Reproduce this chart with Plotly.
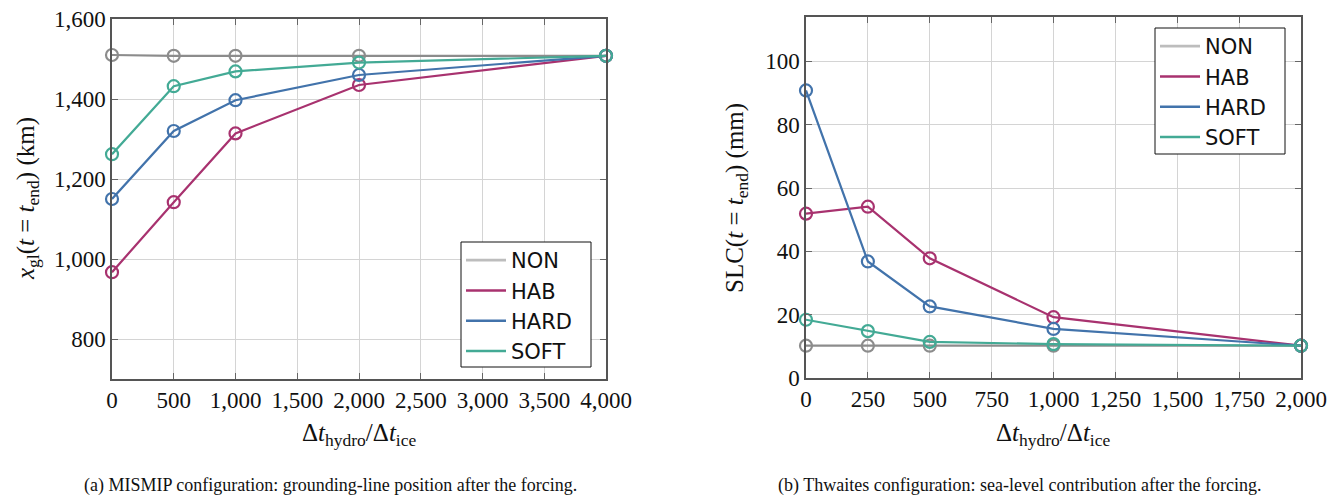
import plotly.graph_objects as go

# ---- data ----
series_names = ["NON", "HAB", "HARD", "SOFT"]
colors = ["#8c8c8c", "#a8326f", "#4273ab", "#43aa95"]
legend_colors = ["#bdbdbd", "#a8326f", "#4273ab", "#43aa95"]

x_mismip = [0, 500, 1000, 2000, 4000]
mismip_non = [1510, 1508, 1508, 1508, 1508]
mismip_hab = [967, 1142, 1314, 1435, 1508]
mismip_hard = [1150, 1320, 1397, 1460, 1508]
mismip_soft = [1262, 1432, 1469, 1491, 1508]

x_thwaites = [0, 250, 500, 1000, 2000]
thw_non = [10.2, 10.2, 10.2, 10.2, 10.2]
thw_hab = [51.9, 54.1, 37.8, 19.2, 10.2]
thw_hard = [90.8, 36.8, 22.6, 15.5, 10.2]
thw_soft = [18.4, 14.8, 11.4, 10.7, 10.2]

W, H = 1343, 497
def px(x): return x / W
def py(y): return 1 - y / H

fig = go.Figure()

panels = [
    ("x", "y", "legend", x_mismip, [mismip_non, mismip_hab, mismip_hard, mismip_soft]),
    ("x2", "y2", "legend2", x_thwaites, [thw_non, thw_hab, thw_hard, thw_soft]),
]
for xa, ya, lg, xs, series in panels:
    for name, col, ys in zip(series_names, colors, series):
        fig.add_trace(go.Scatter(x=xs, y=ys, name=name, mode="lines+markers", showlegend=False,
                                 line=dict(color=col, width=2.2),
                                 marker=dict(symbol="circle-open", size=12, line=dict(width=2.2, color=col)),
                                 xaxis=xa, yaxis=ya, cliponaxis=False))
    # legend entries (line only, as in the reference)
    for name, col in zip(series_names, legend_colors):
        fig.add_trace(go.Scatter(x=[None], y=[None], name=name, mode="lines",
                                 line=dict(color=col, width=2.6),
                                 xaxis=xa, yaxis=ya, legend=lg, showlegend=True))

tickfont = dict(family="Liberation Serif", size=23, color="#111")
axis_common = dict(showgrid=True, gridcolor="#d4d4d4", gridwidth=1, zeroline=False,
                   showline=True, linecolor="#555", linewidth=1.5, mirror="ticks",
                   ticks="inside", ticklen=6, tickcolor="#666", tickwidth=1,
                   tickfont=tickfont, tickformat=",", automargin=False)

legend_font = dict(family="DejaVu Sans", size=21, color="#111")
fig.update_layout(
    width=W, height=H, margin=dict(l=0, r=0, t=0, b=0, autoexpand=False),
    paper_bgcolor="white", plot_bgcolor="white",
    xaxis=dict(domain=[px(112), px(606)], range=[0, 4000], tick0=0, dtick=500, anchor="y", **axis_common),
    yaxis=dict(domain=[py(379), py(19)], range=[700, 1600], tick0=800, dtick=200, anchor="x", **axis_common),
    xaxis2=dict(domain=[px(806), px(1301)], range=[0, 2000], tick0=0, dtick=250, anchor="y2", **axis_common),
    yaxis2=dict(domain=[py(378), py(17)], range=[0, 114], tick0=0, dtick=20, anchor="x2", **axis_common),
    legend=dict(x=px(461), y=py(240), xanchor="left", yanchor="top",
                bgcolor="rgba(0,0,0,0)", borderwidth=0, itemwidth=40,
                font=legend_font, tracegroupgap=0),
    legend2=dict(x=px(1155), y=py(26), xanchor="left", yanchor="top",
                 bgcolor="rgba(0,0,0,0)", borderwidth=0, itemwidth=40,
                 font=legend_font, tracegroupgap=0),
    showlegend=True,
)

# legend frames
box = dict(type="rect", xref="paper", yref="paper", layer="above",
           line=dict(color="#111", width=1), fillcolor="white")
fig.add_shape(x0=px(461), x1=px(591), y0=py(367), y1=py(242), **box)
fig.add_shape(x0=px(1155), x1=px(1285), y0=py(154), y1=py(28), **box)

serif = "Liberation Serif"
ann = [
    dict(text="Δ<i>t</i><sub>hydro</sub>/Δ<i>t</i><sub>ice</sub>", x=px(359), y=py(434),
         font=dict(family=serif, size=25, color="#111")),
    dict(text="Δ<i>t</i><sub>hydro</sub>/Δ<i>t</i><sub>ice</sub>", x=px(1053), y=py(434),
         font=dict(family=serif, size=25, color="#111")),
    dict(text="<i>x</i><sub>gl</sub>(<i>t</i> = <i>t</i><sub>end</sub>) (km)", x=px(27), y=py(199),
         textangle=-90, font=dict(family=serif, size=25, color="#111")),
    dict(text="SLC(<i>t</i> = <i>t</i><sub>end</sub>) (mm)", x=px(737), y=py(198),
         textangle=-90, font=dict(family=serif, size=25, color="#111")),
    dict(text="(a) MISMIP configuration: grounding-line position after the forcing.", x=px(330), y=py(485),
         font=dict(family=serif, size=18, color="#111")),
    dict(text="(b) Thwaites configuration: sea-level contribution after the forcing.", x=px(1020), y=py(485),
         font=dict(family=serif, size=18, color="#111")),
]
for a in ann:
    a.update(xref="paper", yref="paper", showarrow=False, xanchor="center", yanchor="middle")
fig.update_layout(annotations=ann)

fig.write_html("out.html", config={"displayModeBar": False},
               post_script="document.body.style.margin='0';document.body.style.overflow='hidden';")
